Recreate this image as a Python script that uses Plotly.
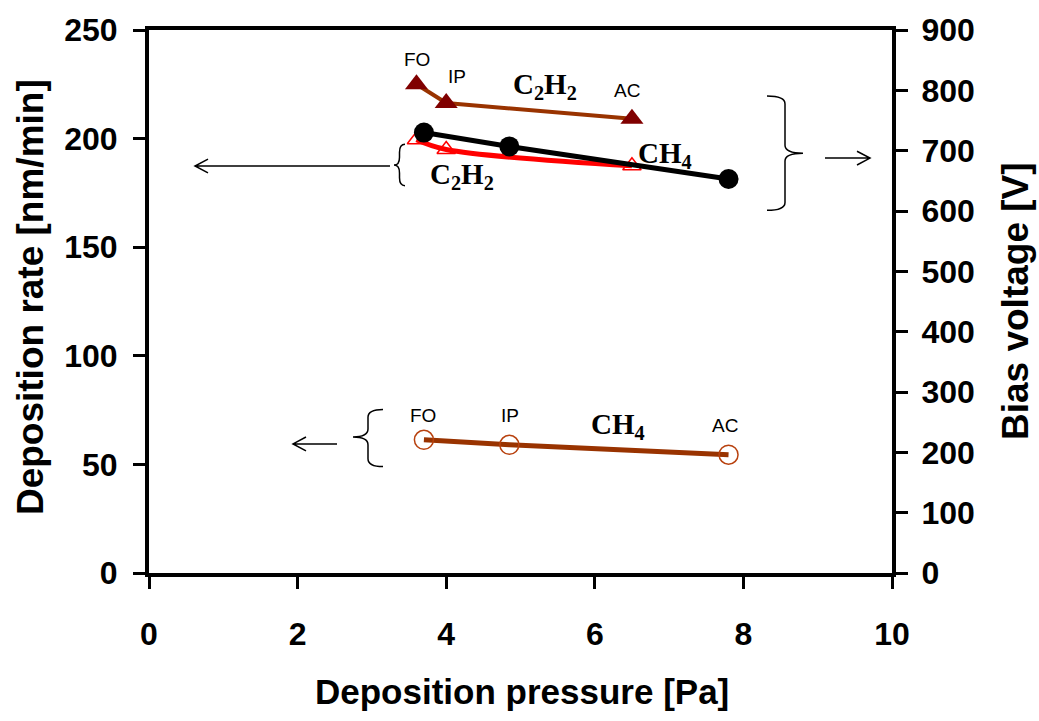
import plotly.graph_objects as go

# ---------------- data ----------------
x_c2h2 = [3.6, 4.0, 6.5]
bias_c2h2 = [810, 779, 753]          # V (right axis)
rate_c2h2 = [199.5, 195.0, 187.5]    # nm/min (left axis)

x_ch4 = [3.7, 4.85, 7.8]
bias_ch4 = [730, 707, 653]           # V (right axis)
rate_ch4 = [61.3, 59.0, 54.5]        # nm/min (left axis)

mode_labels = ["FO", "IP", "AC"]

x_ticks = [0, 2, 4, 6, 8, 10]
y_ticks = [0, 50, 100, 150, 200, 250]
y2_ticks = [0, 100, 200, 300, 400, 500, 600, 700, 800, 900]

# ---------------- layout geometry (pixels) ----------------
W, H = 1039, 721
PL, PR, PT, PB = 149, 892, 22, 573


def px(x):
    return (x - PL) / (PR - PL)


def py(y):
    return (PB - y) / (PB - PT)


SANS = "Liberation Sans, Arial, sans-serif"
SERIF = "Liberation Serif, Times New Roman, serif"

fig = go.Figure()

# deposition rate C2H2 (red, open triangles)
fig.add_trace(go.Scatter(
    x=x_c2h2, y=rate_c2h2, mode="lines+markers",
    line=dict(color="#FF0000", width=5, shape="spline"),
    marker=dict(symbol="triangle-up-open", size=16, color="#FF0000",
                line=dict(width=1.5, color="#FF0000")),
    yaxis="y", showlegend=False))

# deposition rate CH4 (brown, open circles)
fig.add_trace(go.Scatter(
    x=x_ch4, y=rate_ch4, mode="lines+markers",
    line=dict(color="#993300", width=5),
    marker=dict(symbol="circle-open", size=19, color="#B8410E",
                line=dict(width=1.5, color="#B8410E")),
    yaxis="y", showlegend=False))

# bias voltage C2H2 (dark red filled triangles)
fig.add_trace(go.Scatter(
    x=x_c2h2, y=bias_c2h2, mode="lines+markers",
    line=dict(color="#993300", width=4),
    marker=dict(symbol="triangle-up", size=20, color="#800000"),
    yaxis="y2", showlegend=False))

# bias voltage CH4 (black filled circles)
fig.add_trace(go.Scatter(
    x=x_ch4, y=bias_ch4, mode="lines+markers",
    line=dict(color="#000000", width=5),
    marker=dict(symbol="circle", size=20, color="#000000"),
    yaxis="y2", showlegend=False))

# ---------------- labels ----------------
ann = []


def label(xd, yd, text, size, family, bold=False, yref="y"):
    t = f"<b>{text}</b>" if bold else text
    ann.append(dict(x=xd, y=yd, xref="x", yref=yref, text=t, showarrow=False,
                    font=dict(size=size, family=family, color="black"),
                    xanchor="center", yanchor="middle"))


LS = 19   # FO / IP / AC
FS = 29   # chemical formulas

# top group (bias, C2H2)
label(3.61, 236.4, mode_labels[0], LS, SANS)
label(4.15, 228.7, mode_labels[1], LS, SANS)
label(6.43, 222.3, mode_labels[2], LS, SANS)
label(5.33, 224.0, "C<sub>2</sub>H<sub>2</sub>", FS, SERIF, bold=True)
label(4.21, 182.8, "C<sub>2</sub>H<sub>2</sub>", FS, SERIF, bold=True)
label(6.94, 192.3, "CH<sub>4</sub>", FS, SERIF, bold=True)
# bottom group
label(3.69, 72.6, mode_labels[0], LS, SANS)
label(4.86, 72.6, mode_labels[1], LS, SANS)
label(6.31, 67.5, "CH<sub>4</sub>", FS, SERIF, bold=True)
label(7.75, 68.1, mode_labels[2], LS, SANS)

# axis titles
ann.append(dict(x=px(30), y=py(293), xref="paper", yref="paper",
                text="<b>Deposition rate [nm/min]</b>", textangle=-90,
                showarrow=False, font=dict(size=37, family=SANS, color="black"),
                xanchor="center", yanchor="middle"))
ann.append(dict(x=px(1015), y=py(297), xref="paper", yref="paper",
                text="<b>Bias voltage [V]</b>", textangle=-90,
                showarrow=False, font=dict(size=37, family=SANS, color="black"),
                xanchor="center", yanchor="middle"))
ann.append(dict(x=px(522), y=py(693), xref="paper", yref="paper",
                text="<b>Deposition pressure [Pa]</b>",
                showarrow=False, font=dict(size=35, family=SANS, color="black"),
                xanchor="center", yanchor="middle"))

# ---------------- braces and arrows ----------------
shapes = []


def P(x, y):
    return f"{px(x):.5f},{py(y):.5f}"


def brace(xe, xt, yt, yb, ym, r=8):
    xm = (xe + xt) / 2
    d = (f"M {P(xe, yt)} Q {P(xm, yt)} {P(xm, yt + r)} "
         f"L {P(xm, ym - r)} Q {P(xm, ym)} {P(xt, ym)} "
         f"Q {P(xm, ym)} {P(xm, ym + r)} "
         f"L {P(xm, yb - r)} Q {P(xm, yb)} {P(xe, yb)}")
    shapes.append(dict(type="path", path=d, xref="paper", yref="paper",
                       line=dict(color="black", width=1.5)))


def arrow(x1, x2, y, hl=13, hw=7):
    s = 1 if x2 < x1 else -1
    d = (f"M {P(x1, y)} L {P(x2, y)} "
         f"M {P(x2 + s * hl, y - hw)} L {P(x2, y)} L {P(x2 + s * hl, y + hw)}")
    shapes.append(dict(type="path", path=d, xref="paper", yref="paper",
                       line=dict(color="black", width=1.5)))


brace(405, 394, 138, 180, 159)
arrow(390, 195, 160)
brace(767, 803, 89, 205, 147)
arrow(825, 870, 152)
brace(383, 353, 407, 465, 435)
arrow(337, 293, 442)

tickfont = dict(size=32, family=SANS, color="black")

fig.update_layout(
    width=W, height=H,
    margin=dict(l=PL, r=W - PR, t=PT, b=H - PB),
    paper_bgcolor="white", plot_bgcolor="white",
    annotations=ann, shapes=shapes,
    xaxis=dict(range=[0, 10], tickvals=x_ticks, ticktext=[f"<b>{v}</b>" for v in x_ticks],
               showgrid=False, zeroline=False, showline=True, linecolor="black",
               linewidth=4, mirror=True, ticks="outside", ticklen=12, tickwidth=3,
               tickcolor="black", tickfont=tickfont, ticklabelstandoff=18),
    yaxis=dict(range=[0, 250], tickvals=y_ticks, ticktext=[f"<b>{v}</b>" for v in y_ticks],
               showgrid=False, zeroline=False, showline=True, linecolor="black",
               linewidth=4, ticks="outside", ticklen=12, tickwidth=3,
               tickcolor="black", tickfont=tickfont, ticklabelstandoff=9),
    yaxis2=dict(range=[0, 900], tickvals=y2_ticks, ticktext=[f"<b>{v}</b>" for v in y2_ticks],
                overlaying="y", side="right",
                showgrid=False, zeroline=False, showline=True, linecolor="black",
                linewidth=4, ticks="outside", ticklen=12, tickwidth=3,
                tickcolor="black", tickfont=tickfont, ticklabelstandoff=7),
)

fig.write_html("out.html")
